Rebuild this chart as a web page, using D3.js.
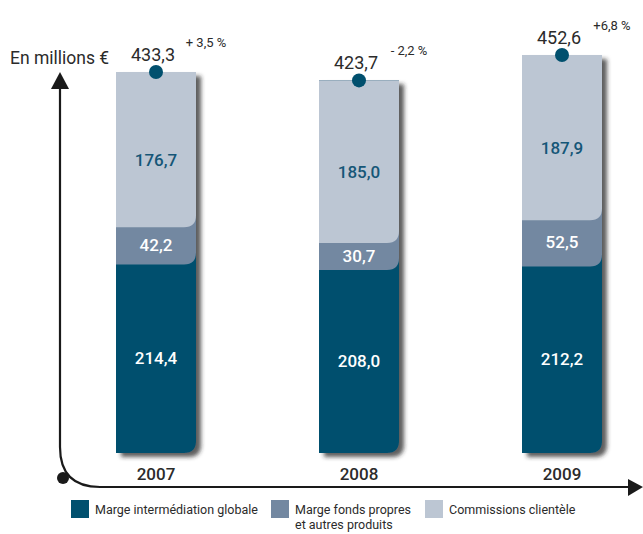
<!DOCTYPE html>
<html>
<head>
<meta charset="utf-8">
<script src="https://cdn.jsdelivr.net/npm/d3@7"></script>
<style>
  body { margin: 0; background: #fff; }
  text { font-family: Roboto, "DejaVu Sans Condensed", sans-serif; }
</style>
</head>
<body>
<svg id="chart" width="643" height="534"></svg>
<script>
// chart values
var years = ['2007', '2008', '2009'];
var margeInter = [214.4, 208.0, 212.2];
var margeFonds = [42.2, 30.7, 52.5];
var commissions = [176.7, 185.0, 187.9];
var totals = [433.3, 423.7, 452.6];
var evolutions = ['+ 3,5 %', '- 2,2 %', '+6,8 %'];
var seriesNames = ['Marge intermédiation globale', 'Marge fonds propres|et autres produits', 'Commissions clientèle'];
var colors = ['#01506e', '#7388a1', '#bcc6d3'];

var svg = d3.select('#chart');
var fmt = function (v) { return d3.format('.1f')(v).replace('.', ','); };

var x = d3.scalePoint().domain(years).range([156, 562]);
var y = d3.scaleLinear().domain([0, 452.6]).range([453, 55]);
var barW = 80, r = 12;

var defs = svg.append('defs');
var f = defs.append('filter').attr('id', 'shadow')
  .attr('x', '-20%').attr('y', '-10%').attr('width', '150%').attr('height', '130%');
f.append('feDropShadow').attr('dx', 5).attr('dy', 4).attr('stdDeviation', 2)
  .attr('flood-color', '#2a2a2a').attr('flood-opacity', 0.75);

// path: square top, rounded bottom-right corner
function segPath(x0, y0, y1) {
  var x1 = x0 + barW;
  var rr = Math.min(r, y1 - y0);
  return 'M' + x0 + ',' + y0 + 'H' + x1 + 'V' + (y1 - rr) +
    'Q' + x1 + ',' + y1 + ' ' + (x1 - rr) + ',' + y1 + 'H' + x0 + 'Z';
}

// axes
var axis = svg.append('g');
axis.append('path')
  .attr('d', 'M60,86 V447 Q60,487 100,487 H630')
  .attr('fill', 'none').attr('stroke', '#1a1a1a').attr('stroke-width', 2.2);
axis.append('path').attr('d', 'M51,89 L60,72 L69,89 Z').attr('fill', '#1a1a1a');
axis.append('path').attr('d', 'M628,479 L643,487 L628,496 Z').attr('fill', '#1a1a1a');
axis.append('circle').attr('cx', 63).attr('cy', 478).attr('r', 6).attr('fill', '#1a1a1a');

svg.append('text').attr('x', 10).attr('y', 64)
  .attr('font-size', 17.5).attr('fill', '#2b2b2b').text('En millions €');

// bars
years.forEach(function (yr, i) {
  var cx = x(yr), x0 = cx - barW / 2;
  var vals = [margeInter[i], margeFonds[i], commissions[i]];
  var top = y(vals[0] + vals[1] + vals[2]);
  var g = svg.append('g').attr('filter', 'url(#shadow)');
  var cum = 0;
  var bounds = vals.map(function (v) {
    var b = [cum, cum + v]; cum += v; return b;
  });
  // draw bottom segment first, each one extending up to the bar top
  bounds.forEach(function (b, k) {
    g.append('path').attr('d', segPath(x0, top, y(b[0]))).attr('fill', colors[k]);
  });
  bounds.forEach(function (b, k) {
    svg.append('text')
      .attr('x', cx).attr('y', (y(b[0]) + y(b[1])) / 2 + (k === 2 ? 16 : 5))
      .attr('text-anchor', 'middle').attr('font-size', 17).attr('font-weight', 500)
      .attr('fill', k === 2 ? '#155677' : '#ffffff')
      .text(fmt(vals[k]));
  });

  svg.append('circle').attr('cx', cx).attr('cy', top).attr('r', 7).attr('fill', '#01506e');
  svg.append('text').attr('x', cx - 3).attr('y', top - 11)
    .attr('text-anchor', 'middle').attr('font-size', 18).attr('fill', '#2b2b2b')
    .text(fmt(totals[i]));
  svg.append('text').attr('x', cx + 50).attr('y', top - 25)
    .attr('text-anchor', 'middle').attr('font-size', 13).attr('fill', '#2b2b2b')
    .text(evolutions[i]);

  svg.append('text').attr('x', cx).attr('y', 480)
    .attr('text-anchor', 'middle').attr('font-size', 17).attr('font-weight', 500)
    .attr('fill', '#2b2b2b').text(yr);
});

// legend
var legX = [71, 271, 425];
seriesNames.forEach(function (name, k) {
  var lg = svg.append('g').attr('transform', 'translate(' + legX[k] + ',500)');
  lg.append('rect').attr('width', 18).attr('height', 18).attr('fill', colors[k]);
  var t = lg.append('text').attr('x', 24).attr('y', 14)
    .attr('font-family', '"DejaVu Sans Condensed", sans-serif')
    .attr('font-size', 12.5).attr('fill', '#2b2b2b');
  name.split('|').forEach(function (line, j) {
    t.append('tspan').attr('x', 24).attr('dy', j ? 15 : 0).text(line);
  });
});
</script>
</body>
</html>
